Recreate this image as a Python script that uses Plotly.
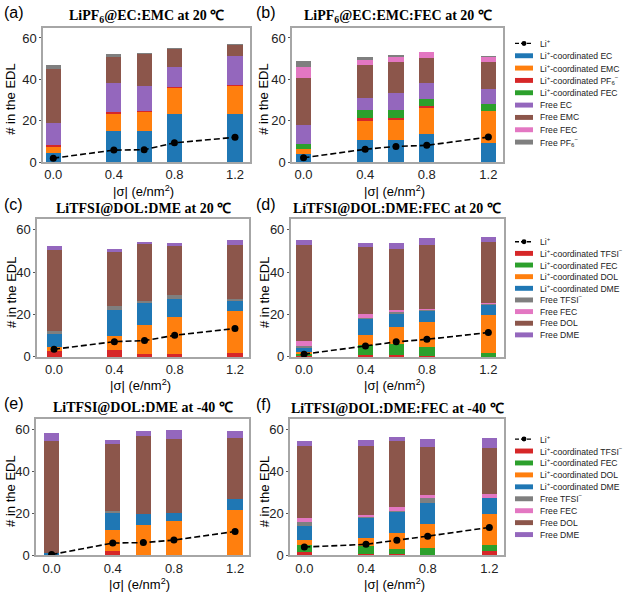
import plotly.graph_objects as go

# ---------------- data ----------------
sigma = [0.0, 0.4, 0.6, 0.8, 1.2]
x_tick_vals = [0.0, 0.4, 0.8, 1.2]
x_tick_text = ["0.0", "0.4", "0.8", "1.2"]
y_tick_vals = [0, 20, 40, 60]

# LiPF6 systems: series names (stack order bottom -> top) and colours
pf6_names = ["Li<sup>+</sup>-coordinated EC", "Li<sup>+</sup>-coordinated EMC",
             "Li<sup>+</sup>-coordinated PF<sub>6</sub><sup>−</sup>", "Li<sup>+</sup>-coordinated FEC",
             "Free EC", "Free EMC", "Free FEC", "Free PF<sub>6</sub><sup>−</sup>"]
pf6_colors = ["#1f77b4", "#ff7f0e", "#d62728", "#2ca02c",
              "#9467bd", "#8c564b", "#e377c2", "#7f7f7f"]

# LiTFSI systems
tfsi_names = ["Li<sup>+</sup>-coordinated TFSI<sup>−</sup>", "Li<sup>+</sup>-coordinated FEC",
              "Li<sup>+</sup>-coordinated DOL", "Li<sup>+</sup>-coordinated DME",
              "Free TFSI<sup>−</sup>", "Free FEC", "Free DOL", "Free DME"]
tfsi_colors = ["#d62728", "#2ca02c", "#ff7f0e", "#1f77b4",
               "#7f7f7f", "#e377c2", "#8c564b", "#9467bd"]

li_name = "Li<sup>+</sup>"

# (a) LiPF6@EC:EMC at 20 C
a_li = [1.9, 5.8, 6.0, 9.3, 12.0]
a_cEC = [4.4, 14.8, 15.0, 23.2, 23.2]
a_cEMC = [3.5, 8.7, 9.5, 12.8, 13.8]
a_cPF6 = [0.2, 0.5, 0.1, 0.4, 0.4]
a_cFEC = [0, 0, 0, 0, 0]
a_fEC = [10.8, 14.3, 12.3, 9.4, 14.0]
a_fEMC = [26.0, 12.7, 15.6, 9.2, 5.4]
a_fFEC = [0, 0, 0, 0, 0]
a_fPF6 = [1.9, 1.1, 0.2, 0.2, 0.2]

# (b) LiPF6@EC:EMC:FEC at 20 C
b_li = [2.1, 6.2, 7.6, 8.1, 12.1]
b_cEC = [4.1, 10.8, 10.9, 13.5, 9.2]
b_cEMC = [2.4, 9.0, 9.9, 13.2, 15.4]
b_cPF6 = [0, 1.3, 0.3, 0.3, 0]
b_cFEC = [2.4, 4.0, 4.3, 3.6, 3.5]
b_fEC = [9.0, 6.0, 8.1, 7.7, 7.3]
b_fEMC = [22.7, 15.7, 14.9, 11.9, 13.2]
b_fFEC = [5.4, 2.9, 2.7, 3.1, 2.4]
b_fPF6 = [2.7, 0.9, 0.5, 0, 0.3]

# (c) LiTFSI@DOL:DME at 20 C
c_li = [3.6, 7.2, 7.7, 10.2, 13.4]
c_cTFSI = [2.8, 3.1, 1.3, 1.6, 1.7]
c_cFEC = [0, 0, 0, 0, 0]
c_cDOL = [1.9, 6.6, 13.9, 17.2, 20.0]
c_cDME = [6.0, 12.6, 10.4, 8.7, 4.8]
c_fTFSI = [1.4, 1.6, 0.9, 1.6, 0.8]
c_fFEC = [0, 0, 0, 0, 0]
c_fDOL = [38.2, 25.9, 26.7, 23.5, 25.6]
c_fDME = [2.3, 1.2, 1.3, 1.1, 2.5]

# (d) LiTFSI@DOL:DME:FEC at 20 C
d_li = [1.3, 5.2, 7.1, 8.3, 11.5]
d_cTFSI = [0.5, 1.1, 0.8, 0.5, 0.1]
d_cFEC = [0.8, 4.4, 5.2, 4.2, 1.9]
d_cDOL = [1.1, 4.7, 8.2, 11.8, 17.8]
d_cDME = [2.0, 7.6, 6.3, 5.2, 4.6]
d_fTFSI = [0.8, 0.6, 0.5, 0.7, 0.6]
d_fFEC = [2.4, 2.1, 1.2, 0.3, 0.4]
d_fDOL = [45.2, 31.2, 28.7, 30.1, 28.9]
d_fDME = [2.3, 2.0, 3.1, 3.3, 2.4]

# (e) LiTFSI@DOL:DME at -40 C
e_li = [0.3, 5.8, 6.0, 7.2, 11.3]
e_cTFSI = [0, 1.9, 0, 0, 0]
e_cFEC = [0, 0, 0, 0, 0]
e_cDOL = [0.2, 10.3, 14.6, 16.1, 21.5]
e_cDME = [1.0, 8.5, 5.0, 4.0, 5.1]
e_fTFSI = [0, 0.3, 0, 0, 0]
e_fFEC = [0, 0, 0, 0, 0]
e_fDOL = [53.0, 32.0, 37.3, 35.2, 29.3]
e_fDME = [3.8, 1.8, 2.0, 4.2, 3.0]

# (f) LiTFSI@DOL:DME:FEC at -40 C
f_li = [3.9, 5.2, 7.2, 9.1, 13.3]
f_cTFSI = [1.6, 0.6, 0.6, 0.3, 1.9]
f_cFEC = [3.1, 3.8, 2.2, 3.3, 3.1]
f_cDOL = [2.5, 3.9, 7.9, 11.1, 14.6]
f_cDME = [6.6, 9.4, 10.1, 10.5, 7.8]
f_fTFSI = [1.9, 0.8, 0.4, 2.2, 0]
f_fFEC = [2.0, 0.8, 1.7, 1.3, 2.1]
f_fDOL = [34.5, 32.9, 31.9, 23.0, 21.6]
f_fDME = [2.6, 3.1, 1.8, 4.1, 5.0]

panel_titles = [
    "LiPF<sub>6</sub>@EC:EMC at 20 ℃",
    "LiPF<sub>6</sub>@EC:EMC:FEC at 20 ℃",
    "LiTFSI@DOL:DME at 20 ℃",
    "LiTFSI@DOL:DME:FEC at 20 ℃",
    "LiTFSI@DOL:DME at -40 ℃",
    "LiTFSI@DOL:DME:FEC at -40 ℃",
]
panel_letters = ["(a)", "(b)", "(c)", "(d)", "(e)", "(f)"]
y_title = "# in the EDL"
x_title = "|σ| (e/nm<sup>2</sup>)"

# ---------------- layout geometry (pixels) ----------------
W, H = 625, 601
def px(x):
    return x / W
def py(y):
    return 1 - y / H

# (left, right, top, bottom, xmin, xmax)
geom = [
    (43, 250, 28, 164.3, -0.068, 1.299),
    (292, 503, 28, 164.3, -0.075, 1.295),
    (37, 249.3, 222.3, 361.7, -0.113, 1.295),
    (290.7, 504, 222.3, 361.7, -0.087, 1.302),
    (36, 249.3, 424.3, 562.7, -0.102, 1.293),
    (290, 504, 425, 562.7, -0.093, 1.295),
]

panels = [
    (a_li, [a_cEC, a_cEMC, a_cPF6, a_cFEC, a_fEC, a_fEMC, a_fFEC, a_fPF6], pf6_names, pf6_colors),
    (b_li, [b_cEC, b_cEMC, b_cPF6, b_cFEC, b_fEC, b_fEMC, b_fFEC, b_fPF6], pf6_names, pf6_colors),
    (c_li, [c_cTFSI, c_cFEC, c_cDOL, c_cDME, c_fTFSI, c_fFEC, c_fDOL, c_fDME], tfsi_names, tfsi_colors),
    (d_li, [d_cTFSI, d_cFEC, d_cDOL, d_cDME, d_fTFSI, d_fFEC, d_fDOL, d_fDME], tfsi_names, tfsi_colors),
    (e_li, [e_cTFSI, e_cFEC, e_cDOL, e_cDME, e_fTFSI, e_fFEC, e_fDOL, e_fDME], tfsi_names, tfsi_colors),
    (f_li, [f_cTFSI, f_cFEC, f_cDOL, f_cDME, f_fTFSI, f_fFEC, f_fDOL, f_fDME], tfsi_names, tfsi_colors),
]

fig = go.Figure()
frame_color = "#a6a6a6"
sans = "Liberation Sans, Arial, sans-serif"
tick_font = dict(family=sans, size=13, color="#222")
layout_axes = {}
annotations = []
shapes = []

for i, ((li, series, names, colors), g) in enumerate(zip(panels, geom)):
    n = i + 1
    xa = "x" if n == 1 else f"x{n}"
    ya = "y" if n == 1 else f"y{n}"
    for vals, name, col in zip(series, names, colors):
        fig.add_trace(go.Bar(x=sigma, y=vals, name=name, width=0.1,
                             marker=dict(color=col, line=dict(width=0)),
                             xaxis=xa, yaxis=ya, showlegend=False))
    fig.add_trace(go.Scatter(x=sigma, y=li, name=li_name, mode="lines+markers",
                             line=dict(color="black", width=1.6, dash="6px,3px"),
                             marker=dict(color="black", size=7),
                             xaxis=xa, yaxis=ya, showlegend=False))
    left, right, top, bottom, xmin, xmax = g
    layout_axes["xaxis" if n == 1 else f"xaxis{n}"] = dict(
        domain=[px(left), px(right)], range=[xmin, xmax], anchor=ya,
        tickvals=x_tick_vals, ticktext=x_tick_text, showgrid=False, zeroline=False,
        showline=True, mirror=True, linecolor=frame_color, linewidth=1.5,
        ticks="", tickfont=tick_font)
    layout_axes["yaxis" if n == 1 else f"yaxis{n}"] = dict(
        domain=[py(bottom), py(top)], range=[0, 65], anchor=xa,
        tickvals=y_tick_vals, showgrid=False, zeroline=False,
        showline=True, mirror=True, linecolor=frame_color, linewidth=1.5,
        ticks="outside", ticklen=2, tickcolor="#555", tickfont=tick_font)

    cx = (left + right) / 2
    # panel title
    annotations.append(dict(text=f"<b>{panel_titles[i]}</b>", x=px(cx), y=py(top - 11),
                            xref="paper", yref="paper", showarrow=False,
                            xanchor="center", yanchor="middle",
                            font=dict(family="Liberation Serif, Times New Roman, serif",
                                      size=14, color="black")))
    # panel letter
    lx = 2 if i % 2 == 0 else 254
    annotations.append(dict(text=panel_letters[i], x=px(lx), y=py(top - 15),
                            xref="paper", yref="paper", showarrow=False,
                            xanchor="left", yanchor="middle",
                            font=dict(family=sans, size=16, color="black")))
    # y axis title
    ytx = 11 if i % 2 == 0 else 264
    annotations.append(dict(text=y_title, x=px(ytx), y=py((top + bottom) / 2 + 4),
                            xref="paper", yref="paper", showarrow=False, textangle=-90,
                            xanchor="center", yanchor="middle",
                            font=dict(family=sans, size=13, color="black")))
    # x axis title
    annotations.append(dict(text=x_title, x=px(cx - 3), y=py(bottom + 29),
                            xref="paper", yref="paper", showarrow=False,
                            xanchor="center", yanchor="middle",
                            font=dict(family=sans, size=13, color="black")))

# ---------------- legends (one per row) ----------------
legend_rows = [
    (44, 12.5, pf6_names, pf6_colors),
    (245, 11.8, tfsi_names, tfsi_colors),
    (445, 12.1, tfsi_names, tfsi_colors),
]
sw_l, sw_r, txt_x = 515, 533, 538
leg_font = dict(family=sans, size=8.6, color="#222")
for y0, step, names, colors in legend_rows:
    # Li+ entry
    shapes.append(dict(type="line", xref="paper", yref="paper",
                       x0=px(sw_l), x1=px(sw_r), y0=py(y0), y1=py(y0),
                       line=dict(color="black", width=1.4, dash="4px,2px")))
    mx = (sw_l + sw_r) / 2
    shapes.append(dict(type="circle", xref="paper", yref="paper",
                       x0=px(mx - 2.5), x1=px(mx + 2.5), y0=py(y0 - 2.5), y1=py(y0 + 2.5),
                       fillcolor="black", line=dict(width=0)))
    annotations.append(dict(text=li_name, x=px(txt_x), y=py(y0), xref="paper", yref="paper",
                            showarrow=False, xanchor="left", yanchor="middle", font=leg_font))
    for k, (nm, col) in enumerate(zip(names, colors)):
        yy = y0 + step * (k + 1)
        shapes.append(dict(type="rect", xref="paper", yref="paper",
                           x0=px(sw_l), x1=px(sw_r), y0=py(yy - 2.5), y1=py(yy + 2.5),
                           fillcolor=col, line=dict(width=0)))
        annotations.append(dict(text=nm, x=px(txt_x), y=py(yy), xref="paper", yref="paper",
                                showarrow=False, xanchor="left", yanchor="middle", font=leg_font))

fig.update_layout(
    width=W, height=H, autosize=False,
    margin=dict(l=0, r=0, t=0, b=0),
    paper_bgcolor="white", plot_bgcolor="white",
    barmode="stack", showlegend=False,
    annotations=annotations, shapes=shapes,
    **layout_axes,
)

fig.write_html("out.html",
               config={"displayModeBar": False},
               post_script="document.body.style.margin='0';document.body.style.overflow='hidden';")
